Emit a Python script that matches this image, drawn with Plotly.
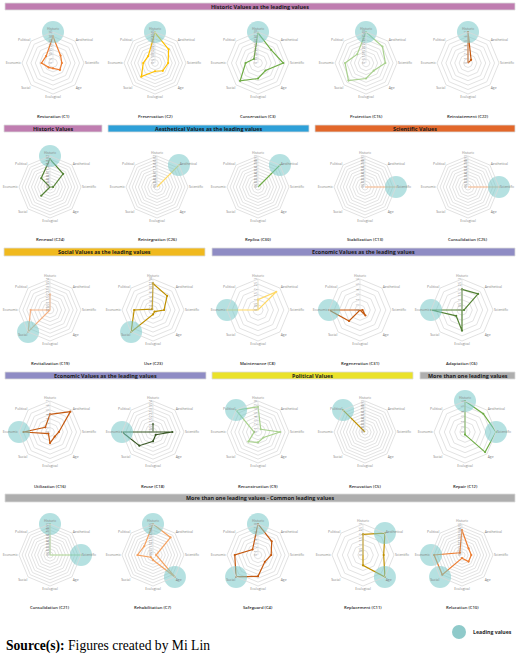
import plotly.graph_objects as go

W, H = 520, 655

AXES = ["Historic", "Aesthetical", "Scientific", "Age", "Ecological", "Social", "Economic", "Political"]

# ---- values per intervention (order follows AXES) ----
restoration_c1 = [30, 12, 10, 11, 6, 7, 13, 11]
preservation_c2 = [44, 28, 19, 16, 12, 28, 17, 14]
conservation_c3 = [68, 42, 57, 24, 35, 57, 28, 13]
protection_c15 = [40, 30, 25, 14, 20, 32, 27, 16]
reinstatement_c22 = [7, 1, 0, 0, 0, 0, 0, 0]
renewal_c24 = [1.8, 1.2, 0.2, 0, 0, 0.8, 0, 0.8]
reintegration_c26 = [0, 2, 0, 0, 0, 0, 0, 0]
replica_c30 = [0, 1, 0, 0, 0, 0, 0, 0]
stabilization_c13 = [0, 0, 1, 0, 0, 0, 0, 0]
consolidation_c25 = [0, 0, 1, 0, 0, 0, 0, 0]
revitalization_c19 = [2, 0, 0, 0, 0, 4, 2.5, 0]
use_c23 = [12, 9, 5, 1, 2, 14, 8.5, 0.5]
maintenance_c8 = [1, 2.5, 0, 0, 0, 0, 3, 0]
regeneration_c31 = [0, 0, 0.5, 1.5, 0, 3, 6, 0]
adaptation_c6 = [2, 2.2, 0.2, 0, 2, 0.8, 3, 0]
utilization_c16 = [4, 6.5, 2, 1.5, 2.5, 0.5, 6, 1.5]
reuse_c18 = [1, 0, 2.5, 0.5, 1.2, 2.5, 4, 0]
reconstruction_c9 = [6.5, 1, 5.7, 2, 2.7, 3.5, 1, 8]
renovation_c5 = [0, 0, 0, 0, 0, 0, 0, 1]
repair_c12 = [6, 5, 6, 5.5, 0.5, 0, 0, 0]
consolidation_c21 = [1, 0, 1, 0, 0, 0, 0, 0]
rehabilitation_c7 = [5, 4, 0.5, 5, 0.8, 0.5, 2.5, 2]
safeguard_c4 = [8, 5, 3.4, 2.5, 5.5, 8, 6, 2]
replacement_c11 = [2, 3, 2, 3, 1, 0, 0, 0]
relocation_c10 = [4, 1.5, 1.5, 1.5, 0.5, 4.5, 4.5, 0.5]

# radial scale (max, step) per chart
scales = [(35, 5), (45, 5), (70, 10), (40, 5), (7, 1),
          (2, 0.2), (2, 0.2), (1, 0.1), (1, 0.1), (1, 0.1),
          (4, 0.5), (14, 2), (3, 0.5), (6, 1), (3, 0.5),
          (7, 1), (4, 0.5), (8, 1), (1, 0.1), (6, 1),
          (1, 0.1), (5, 0.5), (8, 1), (3, 0.5), (5, 0.5)]

titles = ["Restoration (C1)", "Preservation (C2)", "Conservation (C3)", "Protection (C15)", "Reinstatement (C22)",
          "Renewal (C24)", "Reintegration (C26)", "Replica (C30)", "Stabilization (C13)", "Consolidation (C25)",
          "Revitalization (C19)", "Use (C23)", "Maintenance (C8)", "Regeneration (C31)", "Adaptation (C6)",
          "Utilization (C16)", "Reuse (C18)", "Reconstruction (C9)", "Renovation (C5)", "Repair (C12)",
          "Consolidation (C21)", "Rehabilitation (C7)", "Safeguard (C4)", "Replacement (C11)", "Relocation (C10)"]

series = [restoration_c1, preservation_c2, conservation_c3, protection_c15, reinstatement_c22,
          renewal_c24, reintegration_c26, replica_c30, stabilization_c13, consolidation_c25,
          revitalization_c19, use_c23, maintenance_c8, regeneration_c31, adaptation_c6,
          utilization_c16, reuse_c18, reconstruction_c9, renovation_c5, repair_c12,
          consolidation_c21, rehabilitation_c7, safeguard_c4, replacement_c11, relocation_c10]

leading = [["Historic"], ["Historic"], ["Historic"], ["Historic"], ["Historic"],
           ["Historic"], ["Aesthetical"], ["Aesthetical"], ["Scientific"], ["Scientific"],
           ["Social"], ["Social"], ["Economic"], ["Economic"], ["Economic"],
           ["Economic"], ["Economic"], ["Political"], ["Political"], ["Historic", "Scientific"],
           ["Historic", "Scientific"], ["Historic", "Age"], ["Historic", "Social"], ["Aesthetical", "Age"],
           ["Economic", "Social"]]

# ---- styling ----
colors = ["#ED7D31", "#FFC000", "#70AD47", "#A9D18E", "#C55A11",
          "#548235", "#FFD966", "#70AD47", "#F4B183", "#F4B183",
          "#F4B183", "#BF9000", "#FFD966", "#C55A11", "#548235",
          "#C55A11", "#375623", "#A9D18E", "#BF9000", "#70AD47",
          "#A9D18E", "#F4A261", "#C55A11", "#BF9000", "#ED7D31"]

col_x = [[53, 155, 258, 366, 468],
         [50, 157, 258, 365, 468],
         [50, 153, 258, 360, 462],
         [50, 153, 258, 365, 465],
         [50, 153, 258, 363, 462]]
row_cy = [63, 187, 310, 432, 555]
row_ly = [117, 240, 363, 486, 607]
R = 31

headers = [
    ("Historic Values as the leading values", "#BF7DB0", 5, 515, 3, 10),
    ("Historic Values", "#BF7DB0", 4, 102, 125, 132),
    ("Aesthetical Values as the leading values", "#2EA0D8", 108, 309, 125, 132),
    ("Scientific Values", "#E2672A", 315, 515, 125, 132),
    ("Social Values as the leading values", "#F0B91E", 4, 205, 248, 256),
    ("Economic Values as the leading values", "#8F8CC4", 212, 515, 248, 256),
    ("Economic Values as the leading values", "#8F8CC4", 5, 206, 372, 379),
    ("Political Values", "#EAE22A", 212, 413, 372, 379),
    ("More than one leading values", "#AEAEAE", 420, 515, 372, 379),
    ("More than one leading values - Common leading values", "#AEAEAE", 5, 515, 494, 502),
]

fig = go.Figure()
layout_polars = {}
annotations = []
shapes = []

for i, vals in enumerate(series):
    row, col = divmod(i, 5)
    cx, cy = col_x[row][col], row_cy[row]
    rmax, step = scales[i]
    key = "polar" if i == 0 else f"polar{i+1}"
    fig.add_trace(go.Scatterpolar(
        r=list(vals) + [vals[0]], theta=AXES + [AXES[0]],
        mode="lines+markers", line=dict(color=colors[i], width=1.2),
        marker=dict(size=2.2, color=colors[i]),
        subplot=key, showlegend=False, hoverinfo="skip"))
    fig.add_trace(go.Scatterpolar(
        r=[rmax] * len(leading[i]), theta=leading[i], mode="markers",
        marker=dict(size=22, color="rgba(120,200,200,0.55)", line=dict(width=0)),
        subplot=key, showlegend=False, cliponaxis=False, hoverinfo="skip"))
    layout_polars[key] = dict(
        domain=dict(x=[(cx - R) / W, (cx + R) / W], y=[1 - (cy + R) / H, 1 - (cy - R) / H]),
        bgcolor="white",
        gridshape="linear",
        angularaxis=dict(direction="clockwise", rotation=90, categoryarray=AXES, categoryorder="array",
                         showgrid=False, showline=True, linecolor="#d9d9d9", linewidth=0.8, ticks="",
                         tickfont=dict(size=3.4, color="#7f7f7f", family="Open Sans")),
        radialaxis=dict(range=[0, rmax], dtick=step, tick0=0, angle=90, tickangle=0,
                        side="counterclockwise", showline=True, linecolor="#d9d9d9", linewidth=0.6,
                        gridcolor="#e3e3e3", gridwidth=0.6, ticks="",
                        tickfont=dict(size=3, color="#8a8a8a", family="Open Sans")),
    )
    annotations.append(dict(text=titles[i], x=cx / W, y=1 - row_ly[row] / H, xref="paper", yref="paper",
                            showarrow=False, xanchor="center", yanchor="middle",
                            font=dict(size=4.2, color="#262626", family="Open Sans", weight=600)))

for text, c, x0, x1, y0, y1 in headers:
    shapes.append(dict(type="rect", xref="paper", yref="paper", x0=x0 / W, x1=x1 / W,
                       y0=1 - y1 / H, y1=1 - y0 / H, fillcolor=c, line=dict(color="#dcdcdc", width=0.8)))
    annotations.append(dict(text=text, x=(x0 + x1) / 2 / W, y=1 - (y0 + y1) / 2 / H, xref="paper", yref="paper",
                            showarrow=False, xanchor="center", yanchor="middle",
                            font=dict(size=5.4, color="#1a1a1a", family="Open Sans", weight="bold")))

# legend
shapes.append(dict(type="circle", xref="paper", yref="paper", x0=452 / W, x1=466 / W,
                   y0=1 - 639 / H, y1=1 - 625 / H, fillcolor="#8FCACA", line=dict(width=0)))
annotations.append(dict(text="Leading values", x=471 / W, y=1 - 632 / H, xref="paper", yref="paper",
                        showarrow=False, xanchor="left", yanchor="middle",
                        font=dict(size=5.2, color="#262626", family="Open Sans", weight="bold")))
annotations.append(dict(text="<b>Source(s):</b> Figures created by Mi Lin", x=4 / W, y=1 - 646 / H,
                        xref="paper", yref="paper", showarrow=False, xanchor="left", yanchor="middle",
                        font=dict(size=13.6, color="#000000", family="Liberation Serif")))

fig.update_layout(width=W, height=H, margin=dict(l=0, r=0, t=0, b=0), paper_bgcolor="white",
                  annotations=annotations, shapes=shapes, **layout_polars)
fig.write_html("out.html")
